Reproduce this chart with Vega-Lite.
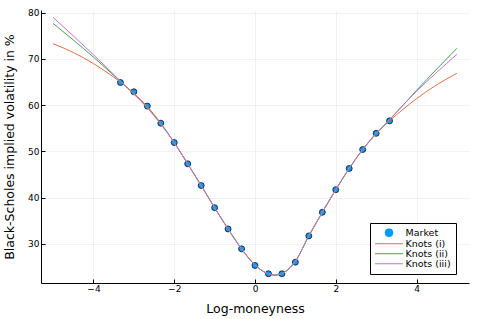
{
  "$schema": "https://vega.github.io/schema/vega-lite/v6.json",
  "width": 428,
  "height": 273,
  "autosize": {"type": "none"},
  "padding": {"left": 41, "top": 10, "right": 9, "bottom": 36},
  "background": "white",
  "config": {
    "font": "DejaVu Sans",
    "view": {"stroke": null},
    "axis": {
      "labelFont": "DejaVu Sans",
      "labelFontSize": 9,
      "labelColor": "#000",
      "titleFont": "DejaVu Sans",
      "titleFontSize": 12.5,
      "titleFontWeight": "normal",
      "titleColor": "#000",
      "domainColor": "#000",
      "domainWidth": 1,
      "tickColor": "#000",
      "tickSize": -4,
      "tickWidth": 1,
      "gridColor": "#000",
      "gridOpacity": 0.1,
      "gridWidth": 0.5
    },
    "legend": {
      "labelFont": "DejaVu Sans",
      "labelFontSize": 9.5,
      "labelColor": "#000"
    }
  },
  "data": {
    "values": [
      {"x": -3.333, "y": 64.9, "series": "Market"},
      {"x": -3.0, "y": 62.9, "series": "Market"},
      {"x": -2.667, "y": 59.8, "series": "Market"},
      {"x": -2.333, "y": 56.1, "series": "Market"},
      {"x": -2.0, "y": 51.9, "series": "Market"},
      {"x": -1.667, "y": 47.3, "series": "Market"},
      {"x": -1.333, "y": 42.6, "series": "Market"},
      {"x": -1.0, "y": 37.8, "series": "Market"},
      {"x": -0.667, "y": 33.2, "series": "Market"},
      {"x": -0.333, "y": 28.9, "series": "Market"},
      {"x": 0.0, "y": 25.3, "series": "Market"},
      {"x": 0.333, "y": 23.5, "series": "Market"},
      {"x": 0.667, "y": 23.5, "series": "Market"},
      {"x": 1.0, "y": 26.0, "series": "Market"},
      {"x": 1.333, "y": 31.7, "series": "Market"},
      {"x": 1.667, "y": 36.8, "series": "Market"},
      {"x": 2.0, "y": 41.7, "series": "Market"},
      {"x": 2.333, "y": 46.3, "series": "Market"},
      {"x": 2.667, "y": 50.4, "series": "Market"},
      {"x": 3.0, "y": 53.9, "series": "Market"},
      {"x": 3.333, "y": 56.6, "series": "Market"},

      {"x": -5.0, "y": 73.3, "series": "Knots (i)"},
      {"x": -4.5, "y": 71.4, "series": "Knots (i)"},
      {"x": -4.0, "y": 69.0, "series": "Knots (i)"},
      {"x": -3.667, "y": 67.1, "series": "Knots (i)"},
      {"x": -3.333, "y": 65.0, "series": "Knots (i)"},
      {"x": -3.0, "y": 62.6, "series": "Knots (i)"},
      {"x": -2.667, "y": 59.7, "series": "Knots (i)"},
      {"x": -2.333, "y": 56.1, "series": "Knots (i)"},
      {"x": -2.0, "y": 51.9, "series": "Knots (i)"},
      {"x": -1.667, "y": 47.3, "series": "Knots (i)"},
      {"x": -1.333, "y": 42.6, "series": "Knots (i)"},
      {"x": -1.0, "y": 37.8, "series": "Knots (i)"},
      {"x": -0.667, "y": 33.2, "series": "Knots (i)"},
      {"x": -0.333, "y": 28.9, "series": "Knots (i)"},
      {"x": 0.0, "y": 25.4, "series": "Knots (i)"},
      {"x": 0.5, "y": 23.2, "series": "Knots (i)"},
      {"x": 1.0, "y": 26.2, "series": "Knots (i)"},
      {"x": 1.333, "y": 31.7, "series": "Knots (i)"},
      {"x": 1.667, "y": 36.8, "series": "Knots (i)"},
      {"x": 2.0, "y": 41.7, "series": "Knots (i)"},
      {"x": 2.333, "y": 46.3, "series": "Knots (i)"},
      {"x": 2.667, "y": 50.4, "series": "Knots (i)"},
      {"x": 3.0, "y": 53.9, "series": "Knots (i)"},
      {"x": 3.333, "y": 56.6, "series": "Knots (i)"},
      {"x": 3.667, "y": 59.1, "series": "Knots (i)"},
      {"x": 4.0, "y": 61.4, "series": "Knots (i)"},
      {"x": 4.5, "y": 64.4, "series": "Knots (i)"},
      {"x": 5.0, "y": 66.9, "series": "Knots (i)"},

      {"x": -5.0, "y": 77.7, "series": "Knots (ii)"},
      {"x": -4.5, "y": 74.1, "series": "Knots (ii)"},
      {"x": -4.0, "y": 70.4, "series": "Knots (ii)"},
      {"x": -3.667, "y": 67.8, "series": "Knots (ii)"},
      {"x": -3.333, "y": 65.1, "series": "Knots (ii)"},
      {"x": -3.0, "y": 62.4, "series": "Knots (ii)"},
      {"x": -2.667, "y": 59.5, "series": "Knots (ii)"},
      {"x": -2.333, "y": 56.0, "series": "Knots (ii)"},
      {"x": -2.0, "y": 51.9, "series": "Knots (ii)"},
      {"x": -1.667, "y": 47.3, "series": "Knots (ii)"},
      {"x": -1.333, "y": 42.6, "series": "Knots (ii)"},
      {"x": -1.0, "y": 37.8, "series": "Knots (ii)"},
      {"x": -0.667, "y": 33.2, "series": "Knots (ii)"},
      {"x": -0.333, "y": 28.9, "series": "Knots (ii)"},
      {"x": 0.0, "y": 25.4, "series": "Knots (ii)"},
      {"x": 0.5, "y": 23.2, "series": "Knots (ii)"},
      {"x": 1.0, "y": 26.2, "series": "Knots (ii)"},
      {"x": 1.333, "y": 31.7, "series": "Knots (ii)"},
      {"x": 1.667, "y": 36.8, "series": "Knots (ii)"},
      {"x": 2.0, "y": 41.7, "series": "Knots (ii)"},
      {"x": 2.333, "y": 46.3, "series": "Knots (ii)"},
      {"x": 2.667, "y": 50.4, "series": "Knots (ii)"},
      {"x": 3.0, "y": 53.8, "series": "Knots (ii)"},
      {"x": 3.333, "y": 56.8, "series": "Knots (ii)"},
      {"x": 3.667, "y": 60.0, "series": "Knots (ii)"},
      {"x": 4.0, "y": 63.2, "series": "Knots (ii)"},
      {"x": 4.5, "y": 67.8, "series": "Knots (ii)"},
      {"x": 5.0, "y": 72.3, "series": "Knots (ii)"},

      {"x": -5.0, "y": 79.0, "series": "Knots (iii)"},
      {"x": -4.5, "y": 75.0, "series": "Knots (iii)"},
      {"x": -4.0, "y": 70.9, "series": "Knots (iii)"},
      {"x": -3.667, "y": 68.1, "series": "Knots (iii)"},
      {"x": -3.333, "y": 65.2, "series": "Knots (iii)"},
      {"x": -3.0, "y": 62.4, "series": "Knots (iii)"},
      {"x": -2.667, "y": 59.4, "series": "Knots (iii)"},
      {"x": -2.333, "y": 55.9, "series": "Knots (iii)"},
      {"x": -2.0, "y": 51.9, "series": "Knots (iii)"},
      {"x": -1.667, "y": 47.3, "series": "Knots (iii)"},
      {"x": -1.333, "y": 42.6, "series": "Knots (iii)"},
      {"x": -1.0, "y": 37.8, "series": "Knots (iii)"},
      {"x": -0.667, "y": 33.2, "series": "Knots (iii)"},
      {"x": -0.333, "y": 28.9, "series": "Knots (iii)"},
      {"x": 0.0, "y": 25.4, "series": "Knots (iii)"},
      {"x": 0.5, "y": 23.2, "series": "Knots (iii)"},
      {"x": 1.0, "y": 26.2, "series": "Knots (iii)"},
      {"x": 1.333, "y": 31.7, "series": "Knots (iii)"},
      {"x": 1.667, "y": 36.8, "series": "Knots (iii)"},
      {"x": 2.0, "y": 41.7, "series": "Knots (iii)"},
      {"x": 2.333, "y": 46.3, "series": "Knots (iii)"},
      {"x": 2.667, "y": 50.4, "series": "Knots (iii)"},
      {"x": 3.0, "y": 53.8, "series": "Knots (iii)"},
      {"x": 3.333, "y": 56.9, "series": "Knots (iii)"},
      {"x": 3.667, "y": 60.0, "series": "Knots (iii)"},
      {"x": 4.0, "y": 63.0, "series": "Knots (iii)"},
      {"x": 4.5, "y": 67.1, "series": "Knots (iii)"},
      {"x": 5.0, "y": 71.0, "series": "Knots (iii)"}
    ]
  },
  "encoding": {
    "x": {
      "field": "x", "type": "quantitative",
      "scale": {"domain": [-5.3, 5.3], "nice": false, "zero": false},
      "axis": {"values": [-4, -2, 0, 2, 4], "format": "d", "title": "Log-moneyness", "labelPadding": 5, "titlePadding": 9}
    },
    "y": {
      "field": "y", "type": "quantitative",
      "scale": {"domain": [21.5, 80.6], "nice": false, "zero": false},
      "axis": {"values": [30, 40, 50, 60, 70, 80], "format": "d", "title": "Black-Scholes implied volatility in %", "labelPadding": 6, "titlePadding": 11}
    },
    "color": {
      "field": "series", "type": "nominal",
      "scale": {
        "domain": ["Market", "Knots (i)", "Knots (ii)", "Knots (iii)"],
        "range": ["#009AFA", "#E36F47", "#3EA44E", "#C371D2"]
      },
      "legend": {
        "title": null,
        "orient": "none",
        "legendX": 329,
        "legendY": 213,
        "padding": 5,
        "strokeColor": "#000",
        "fillColor": "white",
        "symbolType": "stroke",
        "symbolSize": 784,
        "symbolStrokeWidth": 1,
        "symbolOffset": 8,
        "labelOffset": 13,
        "rowPadding": -1.7,
        "encode": {
          "symbols": {
            "update": {
              "x": {"value": 14},
              "shape": {"signal": "datum.value === 'Market' ? 'circle' : 'stroke'"},
              "size": {"signal": "datum.value === 'Market' ? 64 : 784"},
              "fill": {"signal": "datum.value === 'Market' ? '#009AFA' : 'transparent'"},
              "stroke": {"signal": "datum.value === 'Market' ? '#000' : (datum.value === 'Knots (i)' ? '#E36F47' : (datum.value === 'Knots (ii)' ? '#3EA44E' : '#C371D2'))"},
              "strokeWidth": {"signal": "datum.value === 'Market' ? 0.7 : 1"},
              "opacity": {"value": 1}
            }
          }
        }
      }
    }
  },
  "layer": [
    {
      "transform": [{"filter": "datum.series === 'Market'"}],
      "mark": {"type": "point", "filled": true, "size": 36, "stroke": "#000", "strokeWidth": 0.7, "opacity": 1}
    },
    {
      "transform": [{"filter": "datum.series !== 'Market'"}],
      "mark": {"type": "line", "interpolate": "monotone", "strokeWidth": 1},
      "encoding": {"order": {"field": "x", "type": "quantitative"}}
    }
  ]
}
